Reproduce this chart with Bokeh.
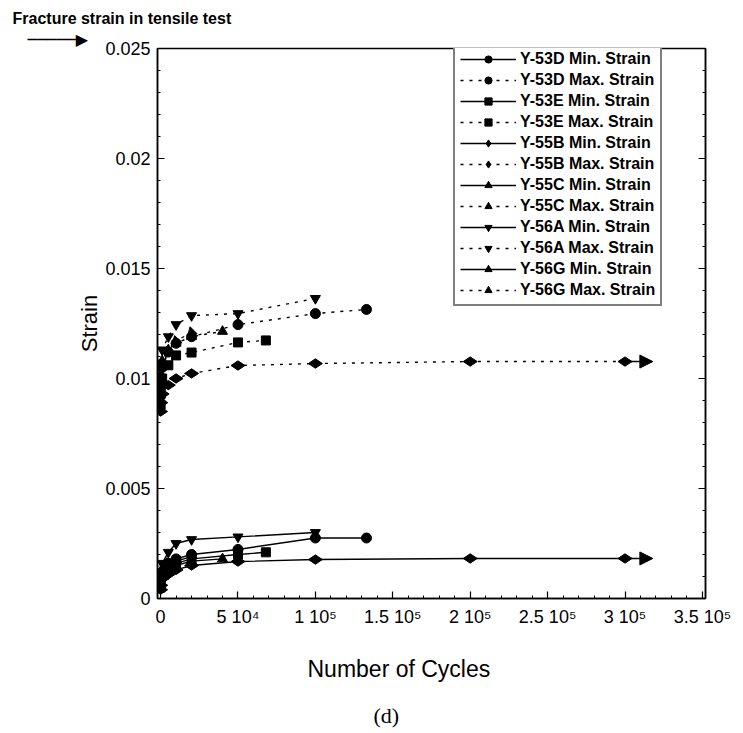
import math
from bokeh.plotting import figure
from bokeh.models import Range1d, FixedTicker, LinearAxis, Arrow, NormalHead, Title
from bokeh.embed import file_html
from bokeh.resources import INLINE

# ---- data ----
cycles_53D = [1, 100, 1000, 5000, 10000, 20000, 50000, 100000, 133000]
min_53D = [0.0006, 0.0009, 0.0012, 0.0016, 0.0018, 0.0020, 0.00223, 0.00275, 0.00275]
max_53D = [0.0092, 0.0098, 0.0105, 0.0112, 0.0116, 0.0119, 0.01245, 0.01295, 0.01314]

cycles_53E = [1, 100, 1000, 5000, 10000, 20000, 50000, 68000]
min_53E = [0.0005, 0.0008, 0.0011, 0.0014, 0.0016, 0.0018, 0.0020, 0.0021]
max_53E = [0.0088, 0.0094, 0.0100, 0.0106, 0.01105, 0.01118, 0.01164, 0.01173]

cycles_55B = [1, 100, 1000, 5000, 10000, 20000, 50000, 100000, 200000, 300000]
min_55B = [0.0004, 0.0006, 0.0009, 0.0011, 0.0013, 0.0015, 0.00168, 0.00177, 0.00182, 0.00182]
max_55B = [0.0085, 0.0089, 0.0093, 0.0097, 0.0100, 0.01023, 0.01059, 0.01068, 0.01077, 0.01077]

cycles_55C = [1, 100, 1000, 5000, 10000, 20000, 40000]
min_55C = [0.0006, 0.0009, 0.0012, 0.0014, 0.0015, 0.0017, 0.0018]
max_55C = [0.0095, 0.0102, 0.0108, 0.0113, 0.0116, 0.0119, 0.01214]

cycles_56A = [1, 100, 1000, 5000, 10000, 20000, 50000, 100000]
min_56A = [0.0008, 0.0012, 0.0016, 0.0021, 0.0025, 0.00268, 0.0028, 0.0030]
max_56A = [0.0100, 0.0107, 0.0113, 0.0119, 0.01245, 0.01286, 0.01295, 0.01364]

cycles_56G = [1, 100, 1000, 5000, 10000, 20000]
min_56G = [0.0007, 0.0010, 0.0013, 0.0016, 0.0017, 0.0019]
max_56G = [0.0093, 0.0099, 0.0106, 0.0112, 0.0117, 0.0121]

specimens = ["Y-53D", "Y-53E", "Y-55B", "Y-55C", "Y-56A", "Y-56G"]
x_ticks = [0, 50000, 100000, 150000, 200000, 250000, 300000, 350000]
x_tick_labels = ["0", "5 10\u2074", "1 10\u2075", "1.5 10\u2075", "2 10\u2075",
                 "2.5 10\u2075", "3 10\u2075", "3.5 10\u2075"]
y_ticks = [0, 0.005, 0.01, 0.015, 0.02, 0.025]
y_tick_labels = ["0", "0.005", "0.01", "0.015", "0.02", "0.025"]
runout_specimen = "Y-55B"

series = {
    "Y-53D": (cycles_53D, min_53D, max_53D, "circle", 10, 0),
    "Y-53E": (cycles_53E, min_53E, max_53E, "square", 9, 0),
    "Y-55B": (cycles_55B, min_55B, max_55B, "diamond", 14, math.pi / 2),
    "Y-55C": (cycles_55C, min_55C, max_55C, "triangle", 10, 0),
    "Y-56A": (cycles_56A, min_56A, max_56A, "inverted_triangle", 10, 0),
    "Y-56G": (cycles_56G, min_56G, max_56G, "triangle", 10, 0.26),
}

FONT = "Liberation Sans"

p = figure(width=743, height=733, output_backend="svg", toolbar_location=None,
           title=None,
           x_range=Range1d(-2000, 352000), y_range=Range1d(0, 0.025),
           min_border_left=157, min_border_right=38, min_border_top=48,
           min_border_bottom=135, background_fill_color="white",
           border_fill_color="white")
p.xgrid.visible = False
p.ygrid.visible = False
p.outline_line_color = "black"
p.outline_line_width = 1.5

xb = p.below[0]
yl = p.left[0]

x_minor = list(range(0, 350001, 10000))
y_minor = [i * 0.001 for i in range(0, 26)]
xb.ticker = FixedTicker(ticks=x_ticks, minor_ticks=x_minor)
xb.major_label_overrides = {t: l for t, l in zip(x_ticks, x_tick_labels)}
yl.ticker = FixedTicker(ticks=y_ticks, minor_ticks=y_minor)
yl.major_label_overrides = {t: l for t, l in zip(y_ticks, y_tick_labels)}

right_ax = LinearAxis(ticker=FixedTicker(ticks=y_ticks, minor_ticks=y_minor),
                      major_label_overrides={t: "" for t in y_ticks},
                      major_label_standoff=0)
p.add_layout(right_ax, "right")

for ax in [xb, yl, right_ax]:
    ax.axis_line_color = "black"
    ax.axis_line_width = 1.5
    ax.major_tick_in = 7
    ax.major_tick_out = 0
    ax.minor_tick_in = 3
    ax.minor_tick_out = 0
    ax.major_tick_line_width = 1.2
    ax.major_label_text_font = FONT
    ax.major_label_text_color = "black"
    ax.major_label_text_font_size = "18px"

xb.major_label_standoff = 8
yl.major_label_standoff = 7
yl.axis_label = "Strain"
yl.axis_label_standoff = 0
yl.axis_label_text_font = FONT
yl.axis_label_text_font_size = "22px"
yl.axis_label_text_font_style = "normal"
yl.axis_label_text_color = "black"

# series
for name in specimens:
    cyc, mn, mx, marker, size, ang = series[name]
    for vals, kind, dash in [(mn, "Min.", "solid"), (mx, "Max.", "3 6")]:
        lbl = f"{name} {kind} Strain"
        p.line(cyc, vals, line_color="black", line_width=1.4, line_dash=dash,
               legend_label=lbl)
        p.scatter(cyc, vals, marker=marker, size=size, angle=ang,
                  fill_color="black", line_color="black", legend_label=lbl)

# run-out arrows for the specimen still running at the last count
cyc = series[runout_specimen][0]
for vals in (series[runout_specimen][1], series[runout_specimen][2]):
    p.add_layout(Arrow(end=NormalHead(size=13, fill_color="black", line_color="black"),
                       x_start=cyc[-1], y_start=vals[-1],
                       x_end=cyc[-1] * 1.06, y_end=vals[-1],
                       line_color="black", line_width=1.4))

# legend
leg = p.legend[0]
leg.location = (296, 292)
leg.border_line_color = "black"
leg.border_line_width = 2
leg.background_fill_color = "white"
leg.background_fill_alpha = 1
leg.label_text_font = FONT
leg.label_text_font_size = "16px"
leg.label_text_font_style = "bold"
leg.label_text_color = "black"
leg.glyph_width = 56
leg.glyph_height = 18
leg.label_height = 18
leg.label_standoff = 4
leg.spacing = 3
leg.padding = 5
leg.margin = 0

# titles outside the frame
p.add_layout(Title(text="\u2500\u2500\u2500\u2500\u2500\u25B6", align="left", offset=-130,
                   standoff=0, text_font="DejaVu Sans", text_font_size="16px",
                   text_font_style="normal", text_color="black"), "above")
p.add_layout(Title(text="Fracture strain in tensile test", align="left", offset=-145,
                   standoff=2, text_font=FONT, text_font_size="16px",
                   text_font_style="bold", text_color="black"), "above")
p.add_layout(Title(text="Number of Cycles", align="left", offset=150,
                   standoff=48, text_font=FONT, text_font_size="23px",
                   text_font_style="normal", text_color="black"), "below")
p.add_layout(Title(text="(d)", align="left", offset=216,
                   standoff=-10, text_font="Liberation Serif", text_font_size="22px",
                   text_font_style="normal", text_color="black"), "below")

open("out.html", "w").write(file_html(p, INLINE))
